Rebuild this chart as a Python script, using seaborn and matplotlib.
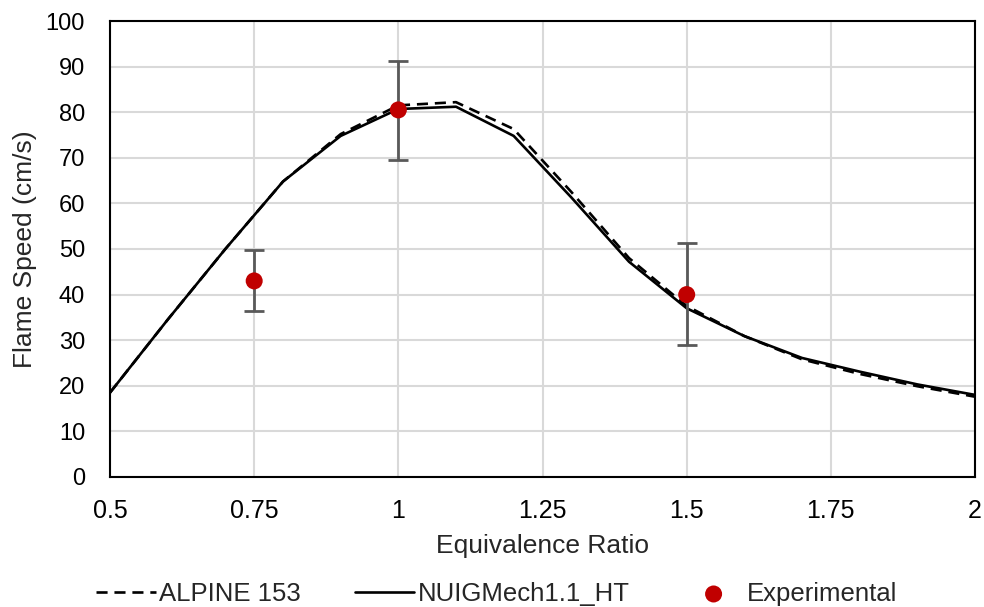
import matplotlib
matplotlib.use("Agg")
import matplotlib.pyplot as plt
import seaborn as sns
import pandas as pd
from matplotlib.ticker import FixedLocator

phi = [0.5, 0.6, 0.7, 0.8, 0.9, 1.0, 1.1, 1.2, 1.3, 1.4, 1.5, 1.6, 1.7, 1.8, 1.9, 2.0]
alpine = [18.5, 34.5, 50.0, 64.8, 75.2, 81.5, 82.2, 76.3, 62.5, 48.0, 37.5, 30.9, 25.8, 22.6, 19.9, 17.6]
nuig = [18.5, 34.5, 50.0, 64.8, 74.8, 80.7, 81.2, 74.8, 61.3, 47.2, 37.0, 30.9, 26.1, 23.1, 20.3, 18.0]

exp_phi = [0.75, 1.0, 1.5]
exp_sl = [43.0, 80.5, 40.0]
exp_lo = [6.5, 11.0, 11.0]
exp_hi = [6.8, 10.8, 11.3]

xticks = [0.5, 0.75, 1.0, 1.25, 1.5, 1.75, 2.0]
xticklabels = ["0.5", "0.75", "1", "1.25", "1.5", "1.75", "2"]
yticks = list(range(0, 101, 10))

sns.set_style("white")
plt.rcParams['font.family'] = ['Liberation Sans', 'DejaVu Sans']

fig = plt.figure(figsize=(9.84, 6.07), dpi=100)
ax = fig.add_axes([0.1118, 0.2142, 0.8791, 0.7512])

df = pd.DataFrame({
    "phi": phi * 2,
    "sl": alpine + nuig,
    "model": ["ALPINE 153"] * len(phi) + ["NUIGMech1.1_HT"] * len(phi),
})

sns.lineplot(data=df[df.model == "ALPINE 153"], x="phi", y="sl", ax=ax, color="black",
             lw=1.9, label="ALPINE 153", zorder=3)
ax.lines[0].set_dashes([4.2, 2.6])
sns.lineplot(data=df[df.model == "NUIGMech1.1_HT"], x="phi", y="sl", ax=ax, color="black",
             lw=1.9, label="NUIGMech1.1_HT", zorder=3)

ax.errorbar(exp_phi, exp_sl, yerr=[exp_lo, exp_hi], fmt="none", ecolor="#595959",
            elinewidth=2.0, capsize=7.5, capthick=2.0, zorder=4)
sns.scatterplot(x=exp_phi, y=exp_sl, ax=ax, color="#C00000", s=150, edgecolor="none",
                label="Experimental", zorder=5)

ax.set_xlim(0.5, 2.0)
ax.set_ylim(0, 100)
ax.xaxis.set_major_locator(FixedLocator(xticks))
ax.set_xticklabels(xticklabels)
ax.set_yticks(yticks)
ax.grid(True, color="#D9D9D9", lw=1.5)
ax.set_axisbelow(True)
ax.tick_params(axis="both", length=0, colors="black")
ax.tick_params(axis="y", pad=18, labelsize=17)
ax.tick_params(axis="x", pad=16, labelsize=18)
for s in ["left", "bottom", "right", "top"]:
    ax.spines[s].set_color("black")
    ax.spines[s].set_linewidth(1.5)

ax.set_xlabel("Equivalence Ratio", fontsize=19, labelpad=7.5)
ax.set_ylabel("Flame Speed (cm/s)", fontsize=19, labelpad=6)

handles, labels = ax.get_legend_handles_labels()
ax.get_legend().remove()
fig.legend(handles, labels, loc="lower center", bbox_to_anchor=(0.505, -0.036), ncol=3,
           frameon=False, fontsize=18.5, handlelength=2.3, handletextpad=0.15,
           columnspacing=2.1)

fig.savefig("out.png", dpi=100)
